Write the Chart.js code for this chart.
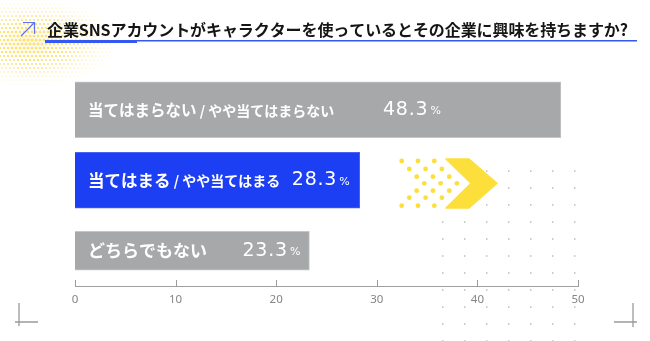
<!DOCTYPE html>
<html>
<head>
<meta charset="utf-8">
<script src="https://cdn.jsdelivr.net/npm/chart.js@4.4.1/dist/chart.umd.min.js"></script>
<style>
html, body { margin: 0; padding: 0; background: #fff; }
#wrap { width: 650px; height: 341px; }
</style>
</head>
<body>
<div id="wrap"><canvas id="chart" width="650" height="341"></canvas></div>
<script>
// data
const title = '企業SNSアカウントがキャラクターを使っているとその企業に興味を持ちますか?'
const categories = ['当てはまらない / やや当てはまらない', '当てはまる / やや当てはまる', 'どちらでもない']
const values = [48.3, 28.3, 23.3]
const xTicks = [0, 10, 20, 30, 40, 50]

// styles
const barColors = ['#a6a8a9', '#1d3ff3', '#a6a8a9']
const barThick = [56, 56, 39]
const labelSizes = [[15.5, 14], [16.5, 14], [17, 14]]
const valueInset = [120, 10, 9]
const YELLOW = '#fddf3b'

// one dataset per bar so each bar can have its own thickness
const datasets = values.map((v, i) => ({
    data: values.map((_, j) => j == i ? v : null),
    backgroundColor: barColors[i],
    borderColor: i == 1 ? '#4a63f4' : '#c4c6c7',
    borderWidth: 1,
    barThickness: barThick[i],
    grouped: false
}))

const deco = {
    id: 'deco',
    beforeDraw(chart) {
        const ctx = chart.ctx
        ctx.save()
        // halftone in the corner
        ctx.fillStyle = '#fbe27a'
        for (let y = 0; y < 100; y += 4) {
            for (let x = (y / 4) % 2 * 2; x < 150; x += 4) {
                const d = Math.hypot((x - 30) / 105, (y - 42) / 52)
                const r = 1.8 * (1 - d)
                if (r < 0.3) continue
                ctx.beginPath()
                ctx.arc(x, y, r, 0, Math.PI * 2)
                ctx.fill()
            }
        }
        // arrow icon
        ctx.strokeStyle = '#5f73ef'
        ctx.lineWidth = 1.2
        ctx.beginPath()
        ctx.moveTo(21, 36); ctx.lineTo(34.5, 22.5)
        ctx.moveTo(23, 22.5); ctx.lineTo(34.5, 22.5); ctx.lineTo(34.5, 34)
        ctx.stroke()
        // title
        ctx.font = 'bold 16px "Noto Sans CJK JP"'
        const w = ctx.measureText(title).width
        ctx.letterSpacing = ((581 - w) / (title.length - 1)) + 'px'
        ctx.fillStyle = '#151515'
        ctx.textBaseline = 'middle'
        ctx.textAlign = 'left'
        ctx.fillText(title, 47, 30)
        ctx.letterSpacing = '0px'
        // underline
        ctx.fillStyle = '#3458f2'
        ctx.fillRect(45, 40, 592, 1.5)
        ctx.fillRect(45, 40, 92, 3)
        // grey dot grid
        ctx.fillStyle = '#bcbcbc'
        for (let r = 0; r < 11; r++) {
            for (let c = 0; c < 7; c++) {
                const x = 442.7 + c * 22, y = 171 + r * 17
                if (x < 480 && y < 212) continue
                ctx.fillRect(x - 0.75, y - 0.75, 1.5, 1.5)
            }
        }
        // yellow dots + chevron
        ctx.fillStyle = YELLOW
        const rows = [161, 169, 176.7, 183.3, 190.7, 197.7, 205.7]
        const shift = [0, 7.6, 15, 22.6, 15, 7.6, 0]
        rows.forEach((y, k) => {
            for (let c = 0; c < 3; c++) {
                ctx.beginPath()
                ctx.arc(401.7 + shift[k] + c * 16.3, y, 2.4, 0, Math.PI * 2)
                ctx.fill()
            }
        })
        ctx.beginPath()
        ctx.moveTo(446, 159)
        ctx.lineTo(469, 159)
        ctx.lineTo(497, 183.3)
        ctx.lineTo(469, 208)
        ctx.lineTo(446, 208)
        ctx.lineTo(471, 183.3)
        ctx.closePath()
        ctx.lineJoin = 'round'
        ctx.strokeStyle = YELLOW
        ctx.lineWidth = 1.5
        ctx.fill()
        ctx.stroke()
        // corner marks
        ctx.strokeStyle = '#9a9a9a'
        ctx.lineWidth = 1.3
        ctx.beginPath()
        ctx.moveTo(19, 303); ctx.lineTo(19, 326)
        ctx.moveTo(15, 322); ctx.lineTo(38, 322)
        ctx.moveTo(633, 303); ctx.lineTo(633, 327)
        ctx.moveTo(614, 322); ctx.lineTo(637, 322)
        ctx.stroke()
        ctx.restore()
    },
    afterDatasetsDraw(chart) {
        const ctx = chart.ctx
        ctx.save()
        ctx.fillStyle = '#fff'
        ctx.textBaseline = 'middle'
        values.forEach((v, i) => {
            const bar = chart.getDatasetMeta(i).data[i]
            const parts = categories[i].split(/(\s*\/\s*)/)
            let x = bar.base + 13
            ctx.textAlign = 'left'
            ctx.font = 'bold ' + labelSizes[i][0] + 'px "Noto Sans CJK JP"'
            ctx.fillText(parts[0], x, bar.y)
            x += ctx.measureText(parts[0]).width
            if (parts.length > 1) {
                ctx.font = 'bold ' + labelSizes[i][1] + 'px "Noto Sans CJK JP"'
                ctx.fillText(parts.slice(1).join(''), x, bar.y + 0.5)
            }
            // value
            const right = bar.x - valueInset[i]
            ctx.textAlign = 'right'
            ctx.font = '11px "DejaVu Sans"'
            ctx.fillText('%', right, bar.y + 1.5)
            const pw = ctx.measureText('%').width
            ctx.font = '19px "DejaVu Sans"'
            ctx.letterSpacing = '0.8px'
            ctx.fillText(v.toFixed(1), right - pw - 2, bar.y)
            ctx.letterSpacing = '0px'
        })
        ctx.restore()
    },
    afterDraw(chart) {
        const ctx = chart.ctx
        const xs = chart.scales.x
        const bottom = chart.chartArea.bottom
        ctx.save()
        ctx.strokeStyle = '#9a9a9a'
        ctx.lineWidth = 1
        ctx.beginPath()
        xTicks.forEach(t => {
            const px = Math.round(xs.getPixelForValue(t)) + 0.5
            ctx.moveTo(px, bottom - 6)
            ctx.lineTo(px, bottom)
        })
        ctx.stroke()
        ctx.restore()
    }
}

new Chart(document.getElementById('chart'), {
    type: 'bar',
    data: { labels: categories, datasets: datasets },
    options: {
        indexAxis: 'y',
        responsive: false,
        animation: false,
        layout: { padding: { left: 75, right: 72, top: 74.5, bottom: 34.8 } },
        plugins: { legend: { display: false }, tooltip: { enabled: false } },
        scales: {
            x: {
                min: 0,
                max: 50,
                afterBuildTicks: axis => { axis.ticks = xTicks.map(v => ({ value: v })) },
                afterFit: axis => { axis.height = 20.2 },
                grid: { display: false, drawTicks: false },
                border: { display: true, color: '#a0a0a0', width: 1 },
                ticks: { color: '#858585', padding: 7, font: { family: 'Noto Sans', size: 11.5 } }
            },
            y: { display: false }
        }
    },
    plugins: [deco]
})
</script>
</body>
</html>
